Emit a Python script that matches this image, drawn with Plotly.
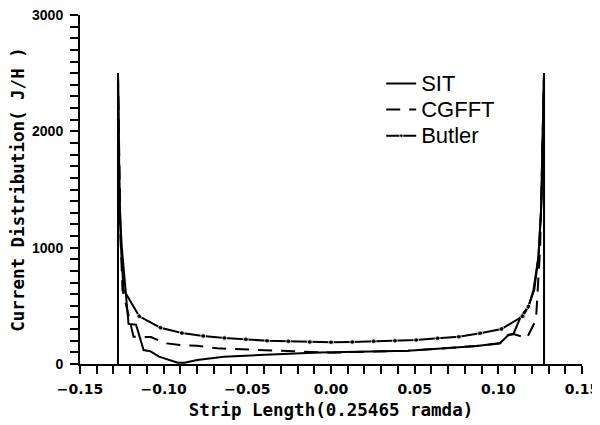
import plotly.graph_objects as go

# ---- data ----
sit_x = [-0.1273, -0.1273, -0.1262, -0.1250, -0.1210, -0.1165, -0.1120, -0.1080, -0.1028,
         -0.0915, -0.0875, -0.0800, -0.0640, -0.0460, -0.0250, -0.0070, 0.0150, 0.0460,
         0.0680, 0.0870, 0.1010, 0.1060, 0.1090, 0.1135, 0.1180, 0.1215, 0.1240, 0.1258,
         0.1273, 0.1273]
sit_y = [0, 2500, 1300, 1000, 345, 338, 120, 110, 63,
         11, 10, 34, 63, 77, 88, 98, 104, 114,
         135, 155, 178, 250, 258, 410, 495, 640, 930, 1400,
         2500, 0]

cg_x = [-0.1273, -0.1258, -0.1246, -0.1180, -0.1076, -0.0988, -0.0900, -0.0800, -0.0680,
        -0.0580, -0.0480, -0.0380, -0.0285, -0.0207, -0.0090, 0.0000, 0.0150, 0.0460,
        0.0680, 0.0870, 0.1010, 0.1060, 0.1090, 0.1170, 0.1225, 0.1250, 0.1273]
cg_y = [2500, 1100, 636, 235, 232, 178, 163, 157, 135,
        129, 126, 114, 114, 109, 97, 97, 104, 114,
        135, 155, 178, 250, 258, 222, 380, 1000, 2500]

bu_x = [-0.1273, -0.1265, -0.1255, -0.1240, -0.1146, -0.1019, -0.0891, -0.0764, -0.0637,
        -0.0509, -0.0382, -0.0255, -0.0127, 0.0000, 0.0127, 0.0255, 0.0382, 0.0509,
        0.0637, 0.0764, 0.0891, 0.1019, 0.1146, 0.1180, 0.1210, 0.1240, 0.1255, 0.1273]
bu_y = [2500, 1500, 1000, 640, 410, 312, 266, 241, 224,
        212, 200, 195, 189, 187, 189, 195, 200, 206,
        221, 235, 264, 301, 410, 493, 636, 922, 1300, 2500]
bu_dot = [0, 0, 0, 0, 1, 1, 1, 1, 1,
          1, 1, 1, 1, 1, 1, 1, 1, 1,
          1, 1, 1, 1, 1, 1, 0, 0, 0, 0]

x_ticks = [-0.15, -0.10, -0.05, 0.00, 0.05, 0.10, 0.15]
x_labels = ["\u22120.15", "\u22120.10", "\u22120.05", "0.00", "0.05", "0.10", "0.15"]
y_ticks = [0, 1000, 2000, 3000]
y_labels = ["0", "1000", "2000", "3000"]
series_names = ["SIT", "CGFFT", "Butler"]


def legend_label(s):
    return "<span style='font-size:22px'>" + s + "</span>"


fig = go.Figure()
fig.add_trace(go.Scatter(x=sit_x, y=sit_y, mode="lines", name=legend_label(series_names[0]),
                         line=dict(color="black", width=2)))
fig.add_trace(go.Scatter(x=cg_x, y=cg_y, mode="lines", name=legend_label(series_names[1]),
                         line=dict(color="black", width=2, dash="14px,9px")))
fig.add_trace(go.Scatter(x=bu_x, y=bu_y, mode="lines+markers", name=legend_label(series_names[2]),
                         line=dict(color="black", width=2),
                         marker=dict(color="black", size=[5 * d for d in bu_dot])))

axis_common = dict(showline=True, linecolor="black", linewidth=2, ticks="outside",
                   ticklen=8, tickwidth=2, tickcolor="black", showgrid=False,
                   zeroline=False, mirror=False, automargin=False,
                   ticklabeloverflow="allow")

# the page body adds an 8px offset; the figure is sized to fill the 600x425 window
fig.update_layout(
    width=592, height=417,
    margin=dict(l=72, r=18, t=7, b=61),
    paper_bgcolor="white", plot_bgcolor="white",
    showlegend=True,
    legend=dict(x=0.6, y=0.855, xanchor="left", yanchor="top",
                bgcolor="rgba(0,0,0,0)",
                font=dict(family="Liberation Sans", size=17.7, color="black"),
                tracegroupgap=0),
    xaxis=dict(range=[-0.15, 0.15], tickvals=x_ticks, ticktext=x_labels,
               tickfont=dict(family="DejaVu Sans", size=14, color="black", weight="bold"),
               ticklabelstandoff=3,
               minor=dict(dtick=0.01, ticks="outside", ticklen=8, tickwidth=2,
                          tickcolor="black", showgrid=False),
               title=dict(text="Strip Length(0.25465 ramda)", standoff=8,
                          font=dict(family="DejaVu Sans Mono", size=17.5,
                                    color="black", weight="bold")),
               **axis_common),
    yaxis=dict(range=[0, 3000], tickvals=y_ticks, ticktext=y_labels,
               tickfont=dict(family="Liberation Sans", size=14, color="black", weight="bold"),
               ticklabelstandoff=4,
               minor=dict(dtick=100, ticks="outside", ticklen=8, tickwidth=2,
                          tickcolor="black", showgrid=False),
               title=dict(text="Current Distribution( J/H )", standoff=4,
                          font=dict(family="DejaVu Sans Mono", size=17.5,
                                    color="black", weight="bold")),
               **axis_common),
)

fig.write_html("out.html")
